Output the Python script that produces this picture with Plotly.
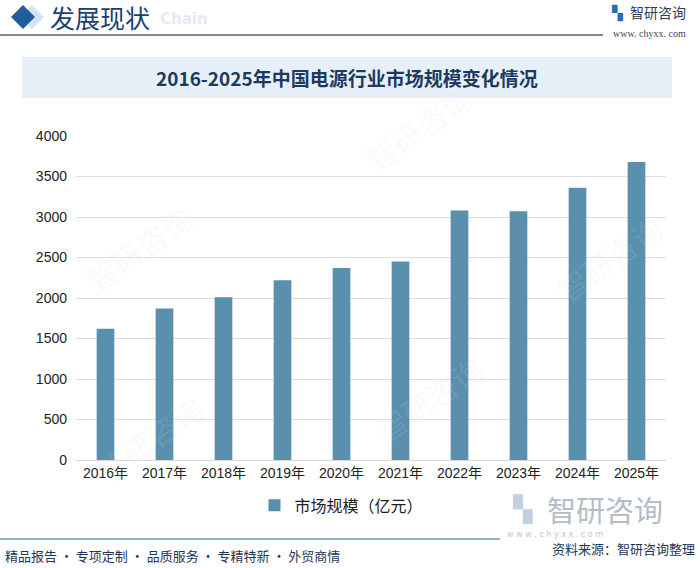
import plotly.graph_objects as go

# market size of China's power supply industry, 100M yuan
years = ["2016年", "2017年", "2018年", "2019年", "2020年",
         "2021年", "2022年", "2023年", "2024年", "2025年"]
market_size = [1620, 1870, 2010, 2220, 2370, 2450, 3080, 3070, 3360, 3680]
series_name = "市场规模（亿元）"
y_ticks = [0, 500, 1000, 1500, 2000, 2500, 3000, 3500, 4000]

CJK = "Liberation Sans, Noto Sans CJK SC"
BAR = "#5a8fae"

fig = go.Figure(go.Bar(
    x=years, y=market_size, name=series_name,
    marker=dict(color=BAR, line=dict(width=0)),
    showlegend=True,
))


def px(x, y):
    # page pixels -> paper coords of the plot area
    return (x - 76) / 590, (460 - y) / 324


shapes = []
bx0, by0 = px(22, 98)
bx1, by1 = px(672, 57)
shapes.append(dict(type="rect", xref="paper", yref="paper", layer="below",
                   x0=bx0, x1=bx1, y0=by0, y1=by1,
                   fillcolor="#e7f0f9", line=dict(width=0)))
hx0, hy = px(0, 35)
hx1, _ = px(603, 35)
shapes.append(dict(type="line", xref="paper", yref="paper",
                   x0=hx0, x1=hx1, y0=hy, y1=hy,
                   line=dict(color="#4b6573", width=1.5)))
fx0, fy = px(0, 539)
fx1, _ = px(500, 539)
shapes.append(dict(type="line", xref="paper", yref="paper",
                   x0=fx0, x1=fx1, y0=fy, y1=fy,
                   line=dict(color="#2f5f86", width=1.2)))

# header diamonds
for cx, col in [(32, "#d6e4f0"), (23, "#1f5d9c")]:
    x0, y0 = px(cx - 12, 17)
    x1, y1 = px(cx, 5)
    x2, y2 = px(cx + 12, 17)
    x3, y3 = px(cx, 29)
    shapes.append(dict(type="path", xref="paper", yref="paper",
                       path=f"M {x0} {y0} L {x1} {y1} L {x2} {y2} L {x3} {y3} Z",
                       fillcolor=col, line=dict(width=0)))

annotations = []


def note(text, x, y, size, color, anchor="left", family=CJK, angle=0):
    ax, ay = px(x, y)
    annotations.append(dict(text=text, x=ax, y=ay, xref="paper", yref="paper",
                            xanchor=anchor, yanchor="middle", showarrow=False,
                            textangle=angle,
                            font=dict(size=size, color=color, family=family)))


# faint watermarks
for wx, wy in [(140, 250), (420, 130), (430, 400), (150, 440), (610, 260)]:
    note("智研咨询", wx, wy, 30, "rgba(205,215,228,0.13)", anchor="center", angle=-35)

note("发展现状", 48, 17, 25, "#1c3f73", family="Noto Sans CJK SC")
note("<b>Chain</b>", 158, 19, 15, "#e3eaf1", family="DejaVu Sans")
note("<b>2016-2025年中国电源行业市场规模变化情况</b>", 347, 77, 19, "#1d3a5e",
     anchor="center", family="Noto Sans CJK SC")
note("<b>▚</b>", 617, 13, 14, "#2b6cb0", anchor="center", family="DejaVu Sans")
note("智研咨询", 628, 13, 14, "#2b3f55")
note("www. chyxx. com", 611, 34, 10, "#3a4a5a", family="Liberation Serif")
note("精品报告 · 专项定制 · 品质服务 · 专精特新 · 外贸商情", 3, 555, 13, "#1f3656",
     family="Noto Sans CJK SC")
note("资料来源：智研咨询整理", 697, 548, 13, "#1f3656", anchor="right",
     family="Noto Sans CJK SC")
note("智研咨询", 545, 509, 29, "#b4bcc6", family="Noto Sans CJK SC")
note("<b>▚</b>", 522, 509, 25, "#bfd0e2", anchor="center", family="DejaVu Sans")
note("w w w . c h y x x . c o m", 505, 534, 8, "#c0c7ce", family="DejaVu Sans")

fig.update_layout(
    width=700, height=568,
    margin=dict(l=76, r=34, t=136, b=108),
    paper_bgcolor="white", plot_bgcolor="rgba(0,0,0,0)",
    bargap=0.7,
    font=dict(family=CJK, size=14, color="#333333"),
    shapes=shapes, annotations=annotations,
    legend=dict(orientation="h", x=0.45, xanchor="center", y=-0.14, yanchor="middle",
                font=dict(size=16, color="#222222", family=CJK),
                itemwidth=30, bgcolor="rgba(0,0,0,0)"),
    xaxis=dict(showline=True, linecolor="#d9d9d9", linewidth=1, ticks="",
               tickfont=dict(size=14, color="#222222")),
    yaxis=dict(range=[0, 4000], tickvals=y_ticks, showgrid=True,
               gridcolor="#dedede", gridwidth=1, zeroline=False, ticks="",
               ticklen=0, tickfont=dict(size=14, color="#222222"),
               ticklabelstandoff=8),
)

fig.write_html("out.html", config={"displayModeBar": False},
               post_script="document.body.style.margin='0';")
